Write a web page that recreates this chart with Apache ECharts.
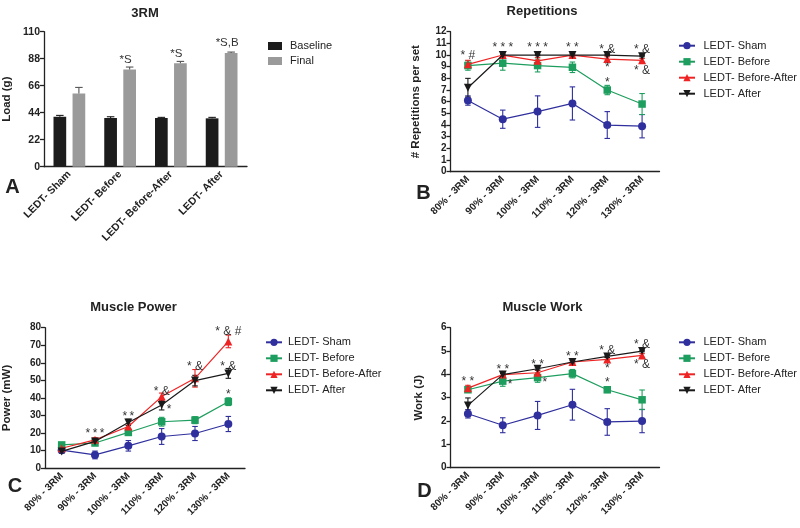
<!DOCTYPE html>
<html><head><meta charset="utf-8">
<script src="https://cdn.jsdelivr.net/npm/echarts@6/dist/echarts.min.js"></script>
<style>html,body{margin:0;padding:0;background:#fff}#c{width:800px;height:528px}</style>
</head><body><div id="c"></div>
<script>
// ---------- DATA ----------
const groups = ['LEDT- Sham', 'LEDT- Before', 'LEDT- Before-After', 'LEDT- After'];
const loadBaseline = [40.7, 39.7, 39.7, 39.4];
const loadBaselineErr = [1.1, 1.0, 0.5, 0.8];
const loadFinal = [59.7, 79.3, 84.2, 92.6];
const loadFinalErr = [4.9, 1.9, 1.6, 0.8];
const loadNotes = ['', '*S', '*S', '*S,B'];

const intensities = ['80% - 3RM', '90% - 3RM', '100% - 3RM', '110% - 3RM', '120% - 3RM', '130% - 3RM'];
const seriesNames = ['LEDT- Sham', 'LEDT- Before', 'LEDT- Before-After', 'LEDT- After'];

const repSham = [6.1, 4.5, 5.15, 5.85, 4.0, 3.9];
const repShamErr = [0.4, 0.78, 1.35, 1.42, 1.15, 1.0];
const repBefore = [9.1, 9.3, 9.1, 8.95, 7.0, 5.8];
const repBeforeErr = [0.4, 0.6, 0.55, 0.45, 0.4, 0.9];
const repBA = [9.2, 10.0, 9.5, 10.0, 9.65, 9.55];
const repBAErr = [0.35, 0.1, 0.3, 0.1, 0.2, 0.15];
const repAfter = [7.2, 10.0, 10.0, 10.0, 10.0, 9.9];
const repAfterErr = [0.8, 0.05, 0.05, 0.1, 0.05, 0.05];
const repNotes = [[0, 10.15, '* #'], [1, 10.77, '* * *'], [2, 10.77, '* * *'], [3, 10.77, '* *'], [4, 10.63, '* &'], [5, 10.63, '* &'], [4, 9.08, '*'], [4, 7.8, '*'], [5, 8.86, '* &']];

const powSham = [10.3, 7.6, 12.8, 18.1, 19.8, 25.2];
const powShamErr = [1.5, 2.2, 3.0, 4.5, 4.0, 4.3];
const powBefore = [13.3, 14.4, 20.4, 26.5, 27.4, 37.9];
const powBeforeErr = [1.2, 1.5, 1.5, 2.5, 2.0, 2.2];
const powBA = [11.4, 16.2, 23.8, 40.8, 51.2, 72.2];
const powBAErr = [1.0, 1.2, 1.5, 2.0, 5.0, 3.6];
const powAfter = [9.6, 15.3, 26.1, 36.0, 49.9, 54.0];
const powAfterErr = [1.0, 1.5, 1.8, 2.8, 3.0, 2.8];
const powNotes = [[1, 20.9, '*\u2009*\u2009*'], [2, 30.3, '*\u2009*'], [3, 44.9, '* &'], [3, 34.7, '*', 'right'], [4, 58.8, '* &'], [5, 78.7, '* & #'], [5, 59.1, '* &'], [5, 43.0, '*']];

const workSham = [2.31, 1.82, 2.24, 2.7, 1.96, 2.0];
const workShamErr = [0.18, 0.32, 0.6, 0.66, 0.57, 0.5];
const workBefore = [3.34, 3.71, 3.86, 4.03, 3.34, 2.91];
const workBeforeErr = [0.1, 0.22, 0.2, 0.18, 0.12, 0.42];
const workBA = [3.41, 3.99, 4.07, 4.53, 4.64, 4.81];
const workBAErr = [0.12, 0.05, 0.1, 0.05, 0.08, 0.08];
const workAfter = [2.67, 3.99, 4.24, 4.53, 4.77, 5.0];
const workAfterErr = [0.32, 0.05, 0.05, 0.05, 0.05, 0.03];
const workNotes = [[0, 3.79, '* *'], [1, 4.27, '* *'], [1, 3.63, '*', 'right'], [2, 4.5, '* *'], [2, 3.71, '*', 'right'], [3, 4.84, '* *'], [4, 5.1, '* &'], [4, 4.31, '*'], [4, 3.74, '*'], [5, 5.34, '* &'], [5, 4.49, '* &']];

// ---------- STYLE ----------
const FONT = '"Liberation Sans", Arial, Helvetica, sans-serif';
const AX = '#222';
const colors = ['#2f2f9e', '#1e9e5e', '#ee2424', '#1a1a1a'];
const symbols = ['circle', 'rect', 'triangle', 'path://M0,0L10,0L5,9Z'];

function catAxis(grid, data, fs) {
  return {
    type: 'category', gridIndex: grid, data: data, boundaryGap: true,
    axisLine: { lineStyle: { color: AX, width: 1.3 } },
    axisTick: { alignWithLabel: true, length: 4, lineStyle: { color: AX, width: 1.3 } },
    axisLabel: { rotate: 45, margin: 6, interval: 0, color: AX, fontWeight: 'bold', fontSize: fs, fontFamily: FONT },
    splitLine: { show: false }
  };
}
function valAxis(grid, max, interval, name, gap, fs) {
  return {
    type: 'value', gridIndex: grid, min: 0, max: max, interval: interval,
    name: name, nameLocation: 'middle', nameGap: gap,
    nameTextStyle: { color: AX, fontWeight: 'bold', fontSize: 11.5, fontFamily: FONT },
    axisLine: { show: true, lineStyle: { color: AX, width: 1.3 } },
    axisTick: { show: true, length: 4, lineStyle: { color: AX, width: 1.3 } },
    axisLabel: { margin: 4, color: AX, fontWeight: 'bold', fontSize: fs, fontFamily: FONT },
    splitLine: { show: false }
  };
}
function errItem(offset, cap, color, lw, upOnly) {
  return function (params, api) {
    const i = api.value(0), v = api.value(1), e = api.value(2);
    const p0 = api.coord([i, v]);
    const pt = api.coord([i, v + e]);
    const pb = upOnly ? p0 : api.coord([i, v - e]);
    const x = p0[0] + offset;
    const st = { stroke: color, lineWidth: lw, fill: null };
    const ch = [
      { type: 'line', shape: { x1: x, y1: pt[1], x2: x, y2: pb[1] }, style: st },
      { type: 'line', shape: { x1: x - cap / 2, y1: pt[1], x2: x + cap / 2, y2: pt[1] }, style: st }
    ];
    if (!upOnly) ch.push({ type: 'line', shape: { x1: x - cap / 2, y1: pb[1], x2: x + cap / 2, y2: pb[1] }, style: st });
    return { type: 'group', children: ch };
  };
}
function errSeries(grid, vals, errs, offset, cap, color, upOnly, z) {
  return {
    type: 'custom', xAxisIndex: grid, yAxisIndex: grid, silent: true, z: z,
    renderItem: errItem(offset, cap, color, 1.1, upOnly),
    encode: { x: 0, y: 1 },
    data: vals.map(function (v, i) { return [i, v, errs[i]]; })
  };
}
function noteSeries(grid, notes) {
  return {
    type: 'custom', xAxisIndex: grid, yAxisIndex: grid, silent: true, z: 10,
    encode: { x: 0, y: 1 },
    data: notes.map(function (n) { return [n[0], n[1]]; }),
    renderItem: function (params, api) {
      const n = notes[params.dataIndex];
      const p = api.coord([api.value(0), api.value(1)]);
      const right = n[3] === 'right';
      return {
        type: 'text', x: p[0] + (right ? 5 : 0), y: p[1] + 2,
        style: { text: n[2], fill: '#333', fontSize: 12, fontFamily: FONT, align: right ? 'left' : 'center', verticalAlign: 'middle' }
      };
    }
  };
}
function lineGroup(grid, vals, errs) {
  const out = [];
  vals.forEach(function (v, k) {
    out.push(errSeries(grid, v, errs[k], 0, 5.5, colors[k], false, 1 + k * 0.1));
  });
  vals.forEach(function (v, k) {
    out.push({
      type: 'line', name: seriesNames[k], xAxisIndex: grid, yAxisIndex: grid, data: v,
      symbol: symbols[k], symbolSize: k === 1 ? 7.5 : 8, z: 3 + k * 0.1,
      lineStyle: { color: colors[k], width: 1.2 }, itemStyle: { color: colors[k] },
      silent: true, animation: false
    });
  });
  return out;
}
function legendFor(left, top, gapPad) {
  return {
    data: seriesNames, orient: 'vertical', left: left, top: top, itemWidth: 16, itemHeight: 9, itemGap: 2,
    selectedMode: false,
    textStyle: { fontSize: 11, fontFamily: FONT, color: AX, lineHeight: 14, padding: [0, 0, 0, gapPad] }
  };
}
function txt(x, y, text, font) {
  return { type: 'text', x: x, y: y, style: { text: text, font: font, fill: AX, align: 'center', verticalAlign: 'middle' } };
}

const chart = echarts.init(document.getElementById('c'), null, { renderer: 'canvas' });
const BW = 12.7, GAPPX = BW * 0.5, OFF = (BW + GAPPX) / 2;

const series = [
  { type: 'bar', name: 'Baseline', xAxisIndex: 0, yAxisIndex: 0, data: loadBaseline, barWidth: BW, barGap: '50%', itemStyle: { color: '#1c1c1c' }, silent: true },
  { type: 'bar', name: 'Final', xAxisIndex: 0, yAxisIndex: 0, data: loadFinal, barWidth: BW, barGap: '50%', itemStyle: { color: '#9a9a9a' }, silent: true,
    label: { show: true, position: 'top', distance: 4, offset: [-4, 0], color: '#333', fontSize: 11.5, fontFamily: FONT,
      formatter: function (p) { return loadNotes[p.dataIndex]; } } },
  errSeries(0, loadBaseline, loadBaselineErr, -OFF, 7.5, '#1c1c1c', true, 3),
  errSeries(0, loadFinal, loadFinalErr, OFF, 7.5, '#555', true, 3)
].concat(
  lineGroup(1, [repSham, repBefore, repBA, repAfter], [repShamErr, repBeforeErr, repBAErr, repAfterErr]),
  [noteSeries(1, repNotes)],
  lineGroup(2, [powSham, powBefore, powBA, powAfter], [powShamErr, powBeforeErr, powBAErr, powAfterErr]),
  [noteSeries(2, powNotes)],
  lineGroup(3, [workSham, workBefore, workBA, workAfter], [workShamErr, workBeforeErr, workBAErr, workAfterErr]),
  [noteSeries(3, workNotes)]
);

chart.setOption({
  animation: false,
  backgroundColor: '#fff',
  grid: [
    { left: 42, top: 31.7, width: 205, height: 135 },
    { left: 450.5, top: 31.7, width: 209, height: 140 },
    { left: 44, top: 327.7, width: 201, height: 140.6 },
    { left: 450.5, top: 327.7, width: 209, height: 140 }
  ],
  xAxis: [catAxis(0, groups, 10.5), catAxis(1, intensities, 10), catAxis(2, intensities, 10), catAxis(3, intensities, 10)],
  yAxis: [
    valAxis(0, 110, 22, 'Load (g)', 31, 10.5),
    valAxis(1, 12, 1, '# Repetitions per set', 29, 10),
    valAxis(2, 80, 10, 'Power (mW)', 32, 10),
    valAxis(3, 6, 1, 'Work (J)', 25.5, 10)
  ],
  legend: [
    { data: ['Baseline', 'Final'], orient: 'vertical', left: 263, top: 34.5, icon: 'rect', itemWidth: 14, itemHeight: 8, itemGap: 2,
      selectedMode: false, textStyle: { fontSize: 11, fontFamily: FONT, color: AX, lineHeight: 13, padding: [0, 0, 0, 3] } },
    legendFor(673, 33.7, 3.5),
    legendFor(260, 330.3, 1),
    legendFor(673, 330.3, 3.5)
  ],
  graphic: [
    txt(145, 13.5, '3RM', 'bold 13px ' + FONT),
    txt(542, 11, 'Repetitions', 'bold 13px ' + FONT),
    txt(133.5, 307, 'Muscle Power', 'bold 13px ' + FONT),
    txt(542.5, 307, 'Muscle Work', 'bold 13px ' + FONT),
    txt(12.5, 187, 'A', 'bold 20px ' + FONT),
    txt(423.5, 193, 'B', 'bold 20px ' + FONT),
    txt(15, 486, 'C', 'bold 20px ' + FONT),
    txt(424.5, 491, 'D', 'bold 20px ' + FONT)
  ],
  series: series
});
</script></body></html>
